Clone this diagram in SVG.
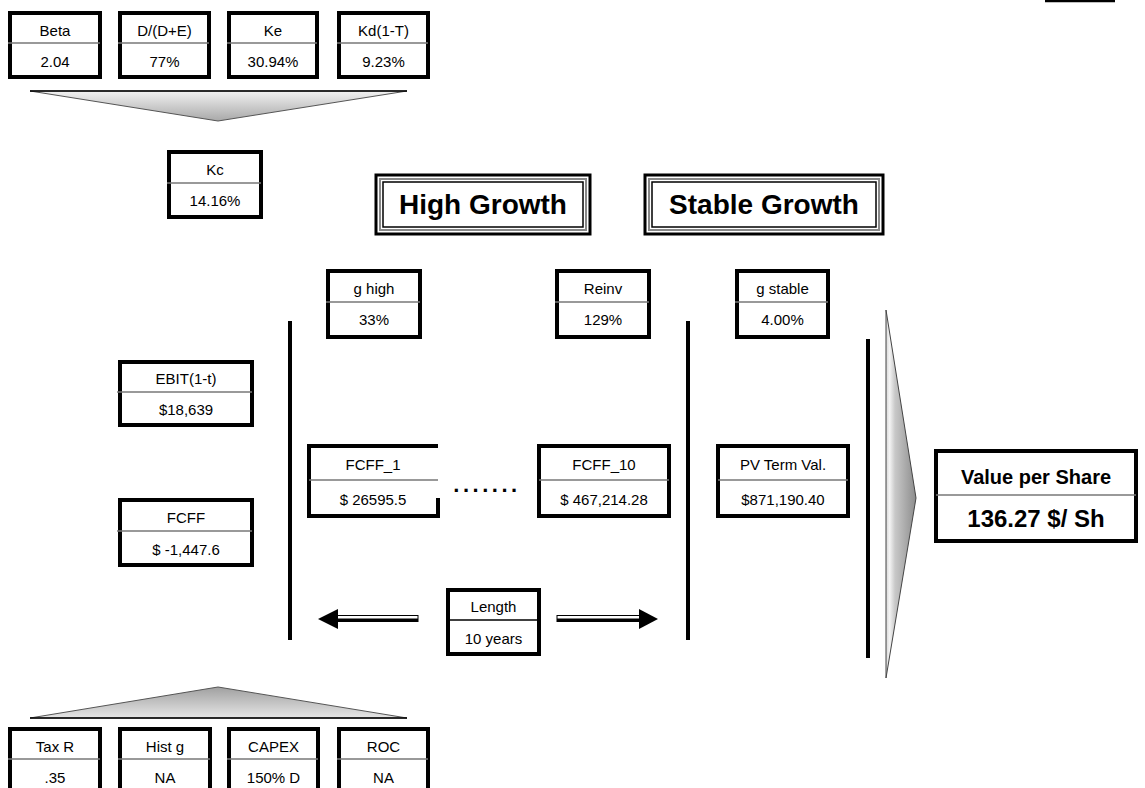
<svg xmlns="http://www.w3.org/2000/svg" width="1145" height="788" viewBox="0 0 1145 788">
<defs>
<linearGradient id="gDown" x1="0" y1="0" x2="0" y2="1"><stop offset="0" stop-color="#f2f2f2"/><stop offset="1" stop-color="#a8a8a8"/></linearGradient>
<linearGradient id="gUp" x1="0" y1="1" x2="0" y2="0"><stop offset="0" stop-color="#e6e6e6"/><stop offset="1" stop-color="#a0a0a0"/></linearGradient>
<linearGradient id="gRight" x1="0" y1="0" x2="1" y2="0"><stop offset="0" stop-color="#d8d8d8"/><stop offset="0.12" stop-color="#f4f4f4"/><stop offset="0.3" stop-color="#c8c8c8"/><stop offset="1" stop-color="#8c8c8c"/></linearGradient>
</defs>
<style>
.bx{fill:#fff;stroke:#000;stroke-width:4}
.dv{stroke:#777;stroke-width:1.5}
.t{font-family:"Liberation Sans",Arial,sans-serif;font-size:15px;fill:#000;text-anchor:middle}
.tb{font-family:"Liberation Sans",Arial,sans-serif;font-weight:bold;fill:#000;text-anchor:middle}
.vl{stroke:#000;stroke-width:4}
.tri{stroke:#555;stroke-width:1}
</style>
<rect width="1145" height="788" fill="#fff"/>
<line x1="1045" y1="1" x2="1115" y2="1" stroke="#000" stroke-width="2.5"/>

<g id="beta"><rect class="bx" x="10" y="13" width="90" height="64"/><line class="dv" x1="8" y1="43" x2="100" y2="43"/><text class="t" x="55" y="36">Beta</text><text class="t" x="55" y="67">2.04</text></g>
<g id="de"><rect class="bx" x="120" y="13" width="89" height="64"/><line class="dv" x1="118" y1="43" x2="209" y2="43"/><text class="t" x="164.5" y="36">D/(D+E)</text><text class="t" x="164.5" y="67">77%</text></g>
<g id="ke"><rect class="bx" x="229" y="13" width="88" height="64"/><line class="dv" x1="227" y1="43" x2="317" y2="43"/><text class="t" x="273" y="36">Ke</text><text class="t" x="273" y="67">30.94%</text></g>
<g id="kd"><rect class="bx" x="339" y="13" width="89" height="64"/><line class="dv" x1="337" y1="43" x2="428" y2="43"/><text class="t" x="383.5" y="36">Kd(1-T)</text><text class="t" x="383.5" y="67">9.23%</text></g>

<g id="funnel-top"><polygon class="tri" points="30,91 407,91 218,121" fill="url(#gDown)"/><line x1="30" y1="91" x2="407" y2="91" stroke="#000" stroke-width="1.5"/></g>

<g id="kc"><rect class="bx" x="169" y="152" width="92" height="65"/><line class="dv" x1="167" y1="183" x2="261" y2="183"/><text class="t" x="215" y="175">Kc</text><text class="t" x="215" y="206">14.16%</text></g>

<g id="high-growth">
<rect x="376" y="175" width="214" height="59" fill="#fff" stroke="#000" stroke-width="3"/>
<rect x="380" y="179" width="206" height="51" fill="none" stroke="#888" stroke-width="2"/>
<rect x="383" y="182" width="200" height="45" fill="none" stroke="#000" stroke-width="1.5"/>
<text class="tb" x="483" y="214" font-size="28">High Growth</text>
</g>
<g id="stable-growth">
<rect x="645" y="175" width="238" height="59" fill="#fff" stroke="#000" stroke-width="3"/>
<rect x="649" y="179" width="230" height="51" fill="none" stroke="#888" stroke-width="2"/>
<rect x="652" y="182" width="224" height="45" fill="none" stroke="#000" stroke-width="1.5"/>
<text class="tb" x="764" y="214" font-size="28">Stable Growth</text>
</g>

<g id="ghigh"><rect class="bx" x="328" y="271" width="92" height="66"/><line class="dv" x1="326" y1="302" x2="420" y2="302"/><text class="t" x="374" y="294">g high</text><text class="t" x="374" y="325">33%</text></g>
<g id="reinv"><rect class="bx" x="557" y="271" width="92" height="66"/><line class="dv" x1="555" y1="302" x2="649" y2="302"/><text class="t" x="603" y="294">Reinv</text><text class="t" x="603" y="325">129%</text></g>
<g id="gstable"><rect class="bx" x="737" y="271" width="91" height="66"/><line class="dv" x1="735" y1="302" x2="828" y2="302"/><text class="t" x="782.5" y="294">g stable</text><text class="t" x="782.5" y="325">4.00%</text></g>

<g id="ebit"><rect class="bx" x="120" y="362" width="132" height="63"/><line class="dv" x1="117" y1="392" x2="252" y2="392"/><text class="t" x="186" y="384">EBIT(1-t)</text><text class="t" x="186" y="415">$18,639</text></g>
<g id="fcff"><rect class="bx" x="120" y="500" width="132" height="65"/><line class="dv" x1="117" y1="531" x2="252" y2="531"/><text class="t" x="186" y="523">FCFF</text><text class="t" x="186" y="555">$ -1,447.6</text></g>

<g id="fcff1"><rect x="309" y="446" width="129" height="70" fill="#fff"/><path d="M438,446 H309 V516 H438 V498" fill="none" stroke="#000" stroke-width="4"/><line class="dv" x1="309" y1="480" x2="438" y2="480"/><text class="t" x="373" y="470">FCFF_1</text><text class="t" x="373" y="505">$ 26595.5</text></g>
<g id="dots"><text x="487" y="492" font-family="Liberation Sans,Arial,sans-serif" font-size="22" font-weight="bold" text-anchor="middle" letter-spacing="3.5">.......</text></g>
<g id="fcff10"><rect class="bx" x="539" y="446" width="130" height="70"/><line class="dv" x1="539" y1="480" x2="669" y2="480"/><text class="t" x="604" y="470">FCFF_10</text><text class="t" x="604" y="505">$ 467,214.28</text></g>
<g id="pvterm"><rect class="bx" x="718" y="446" width="130" height="70"/><line class="dv" x1="718" y1="480" x2="848" y2="480"/><text class="t" x="783" y="470">PV Term Val.</text><text class="t" x="783" y="505">$871,190.40</text></g>

<g id="value"><rect class="bx" x="936" y="451" width="200" height="90"/><line class="dv" x1="936" y1="495" x2="1136" y2="495"/><text class="tb" x="1036" y="484" font-size="20">Value per Share</text><text class="tb" x="1036" y="527" font-size="24">136.27 $/ Sh</text></g>

<g id="length"><rect class="bx" x="448" y="590" width="91" height="64"/><line x1="448" y1="620" x2="539" y2="620" stroke="#000" stroke-width="1.5"/><text class="t" x="493.5" y="612">Length</text><text class="t" x="493.5" y="644">10 years</text></g>

<g id="connectors">
<line class="vl" x1="290" y1="321" x2="290" y2="640"/>
<line class="vl" x1="688" y1="321" x2="688" y2="640"/>
<line class="vl" x1="868" y1="339" x2="868" y2="658"/>
<polygon points="886,310 916,498 886,678" fill="url(#gRight)" stroke="#444" stroke-width="1"/>
<g id="arrow-left">
<rect x="336" y="615.5" width="82" height="6" fill="#fff" stroke="#000" stroke-width="1"/>
<rect x="336" y="618.5" width="82" height="3" fill="#000"/>
<polygon points="318,619 338,609 338,629" fill="#000"/>
</g>
<g id="arrow-right">
<rect x="557" y="615.5" width="85" height="6" fill="#fff" stroke="#000" stroke-width="1"/>
<rect x="557" y="618.5" width="85" height="3" fill="#000"/>
<polygon points="658,619 639,609 639,629" fill="#000"/>
</g>
</g>

<g id="funnel-bottom"><polygon class="tri" points="30,718 407,718 218,687" fill="url(#gUp)"/><line x1="30" y1="718" x2="407" y2="718" stroke="#000" stroke-width="1.5"/></g>

<g id="taxr"><rect class="bx" x="10" y="729" width="90" height="70"/><line class="dv" x1="8" y1="759" x2="100" y2="759"/><text class="t" x="55" y="752">Tax R</text><text class="t" x="55" y="783">.35</text></g>
<g id="histg"><rect class="bx" x="120" y="729" width="90" height="70"/><line class="dv" x1="118" y1="759" x2="210" y2="759"/><text class="t" x="165" y="752">Hist g</text><text class="t" x="165" y="783">NA</text></g>
<g id="capex"><rect class="bx" x="229" y="729" width="89" height="70"/><line class="dv" x1="227" y1="759" x2="318" y2="759"/><text class="t" x="273.5" y="752">CAPEX</text><text class="t" x="273.5" y="783">150% D</text></g>
<g id="roc"><rect class="bx" x="339" y="729" width="89" height="70"/><line class="dv" x1="337" y1="759" x2="428" y2="759"/><text class="t" x="383.5" y="752">ROC</text><text class="t" x="383.5" y="783">NA</text></g>
</svg>
